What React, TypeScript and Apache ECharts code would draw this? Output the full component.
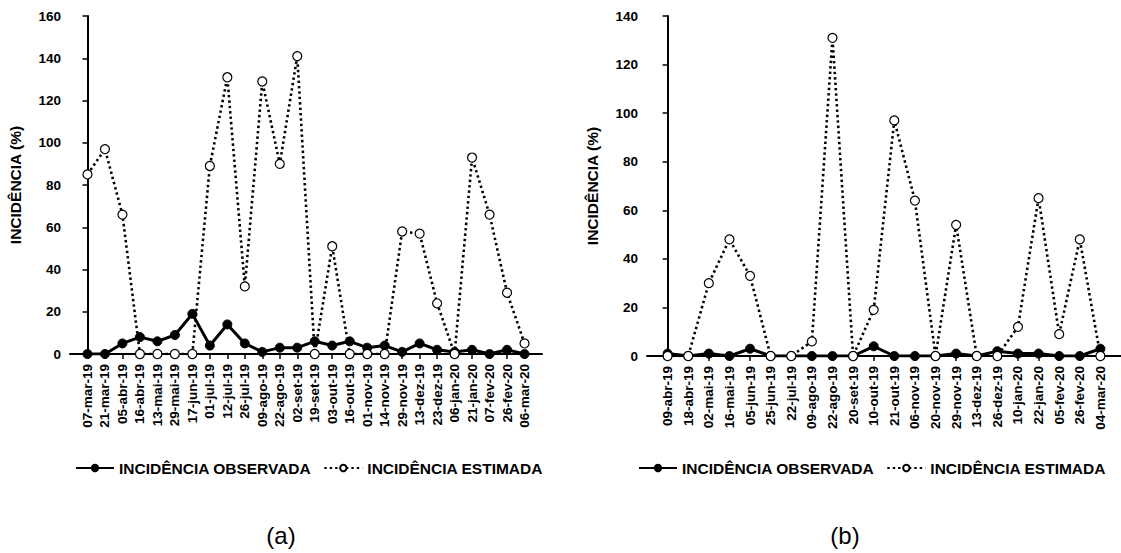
import React, { useEffect, useRef } from "react";
import * as echarts from "echarts";

const catsA = [
  "07-mar-19", "21-mar-19", "05-abr-19", "16-abr-19", "13-mai-19", "29-mai-19",
  "17-jun-19", "01-jul-19", "12-jul-19", "26-jul-19", "09-ago-19", "22-ago-19",
  "02-set-19", "19-set-19", "03-out-19", "16-out-19", "01-nov-19", "14-nov-19",
  "29-nov-19", "13-dez-19", "23-dez-19", "06-jan-20", "21-jan-20", "07-fev-20",
  "26-fev-20", "06-mar-20",
];
const obsA = [0, 0, 5, 8, 6, 9, 19, 4, 14, 5, 1, 3, 3, 6, 4, 6, 3, 4, 1, 5, 2, 1, 2, 0, 2, 0];
const estA = [85, 97, 66, 0, 0, 0, 0, 89, 131, 32, 129, 90, 141, 0, 51, 0, 0, 0, 58, 57, 24, 0, 93, 66, 29, 5];

const catsB = [
  "09-abr-19", "18-abr-19", "02-mai-19", "16-mai-19", "05-jun-19", "25-jun-19",
  "22-jul-19", "09-ago-19", "22-ago-19", "20-set-19", "10-out-19", "21-out-19",
  "06-nov-19", "20-nov-19", "29-nov-19", "13-dez-19", "26-dez-19", "10-jan-20",
  "22-jan-20", "05-fev-20", "26-fev-20", "04-mar-20",
];
const obsB = [1, 0, 1, 0, 3, 0, 0, 0, 0, 0, 4, 0, 0, 0, 1, 0, 2, 1, 1, 0, 0, 3];
const estB = [0, 0, 30, 48, 33, 0, 0, 6, 131, 0, 19, 97, 64, 0, 54, 0, 0, 12, 65, 9, 48, 0];

const yTicksA = { min: 0, max: 160, interval: 20 };
const yTicksB = { min: 0, max: 140, interval: 20 };

const NAME_OBS = "INCIDÊNCIA OBSERVADA";
const NAME_EST = "INCIDÊNCIA ESTIMADA";
const FONT = "'Liberation Sans', Arial, sans-serif";

function xAxisFor(cats: string[], gridIndex: number) {
  const idx = cats.map((_, i) => i);
  return {
    type: "value" as const,
    gridIndex,
    min: -1,
    max: cats.length,
    splitLine: { show: false },
    axisLine: { show: true, onZero: false, lineStyle: { color: "#000", width: 2 } },
    axisTick: { show: true, customValues: idx, length: 5, lineStyle: { color: "#000", width: 1.5 } },
    axisLabel: {
      customValues: idx,
      rotate: 90,
      margin: 10,
      color: "#000",
      fontFamily: FONT,
      fontWeight: "bold",
      fontSize: 13.5,
      formatter: (v: number) => cats[Math.round(v)] ?? "",
    },
  };
}

function yAxisFor(t: { min: number; max: number; interval: number }, gridIndex: number) {
  return {
    type: "value" as const,
    gridIndex,
    min: t.min,
    max: t.max,
    interval: t.interval,
    name: "INCIDÊNCIA (%)",
    nameLocation: "middle" as const,
    nameGap: 47,
    nameTextStyle: { color: "#000", fontFamily: FONT, fontWeight: "bold", fontSize: 15.5 },
    splitLine: { show: false },
    axisLine: { show: true, lineStyle: { color: "#000", width: 2 } },
    axisTick: { show: true, length: 5, lineStyle: { color: "#000", width: 1.5 } },
    axisLabel: { margin: 9, color: "#000", fontFamily: FONT, fontWeight: "bold", fontSize: 13.5 },
  };
}

function seriesFor(obs: number[], est: number[], idx: number) {
  return [
    {
      name: NAME_OBS,
      type: "line" as const,
      xAxisIndex: idx,
      yAxisIndex: idx,
      data: obs.map((v, i) => [i, v]),
      symbol: "circle",
      symbolSize: 9,
      lineStyle: { color: "#000", width: 3, type: "solid" },
      itemStyle: { color: "#000", borderColor: "#000", borderWidth: 1 },
      z: 2,
    },
    {
      name: NAME_EST,
      type: "line" as const,
      xAxisIndex: idx,
      yAxisIndex: idx,
      data: est.map((v, i) => [i, v]),
      symbol: "circle",
      symbolSize: 9,
      lineStyle: { color: "#000", width: 2.6, type: [2.4, 3] },
      itemStyle: { color: "#fff", borderColor: "#000", borderWidth: 1.2 },
      z: 3,
    },
  ];
}

function legendFor(left: number) {
  return {
    left,
    top: 455,
    orient: "horizontal" as const,
    data: [NAME_OBS, NAME_EST],
    itemWidth: 38,
    itemHeight: 8,
    itemGap: 12,
    textStyle: { color: "#000", fontFamily: FONT, fontWeight: "bold", fontSize: 15.5 },
  };
}

export default function App() {
  const ref = useRef<HTMLDivElement>(null);
  useEffect(() => {
    if (!ref.current) return;
    const chart = echarts.init(ref.current, undefined, { renderer: "svg" });
    chart.setOption({
      animation: false,
      backgroundColor: "#fff",
      grid: [
        { left: 70, top: 16, width: 472, height: 338 },
        { left: 647, top: 16, width: 474, height: 340 },
      ],
      xAxis: [xAxisFor(catsA, 0), xAxisFor(catsB, 1)],
      yAxis: [yAxisFor(yTicksA, 0), yAxisFor(yTicksB, 1)],
      legend: [legendFor(70), legendFor(633)],
      series: [...seriesFor(obsA, estA, 0), ...seriesFor(obsB, estB, 1)],
      graphic: [
        {
          type: "text",
          x: 281,
          y: 535,
          style: { text: "(a)", fill: "#000", font: `24px ${FONT}`, textAlign: "center", textVerticalAlign: "middle" },
        },
        {
          type: "text",
          x: 845,
          y: 535,
          style: { text: "(b)", fill: "#000", font: `24px ${FONT}`, textAlign: "center", textVerticalAlign: "middle" },
        },
      ],
    });
    return () => chart.dispose();
  }, []);
  return (
    <div
      ref={ref}
      style={{ position: "absolute", left: 0, top: 0, width: 1121, height: 553, background: "#fff" }}
    />
  );
}
